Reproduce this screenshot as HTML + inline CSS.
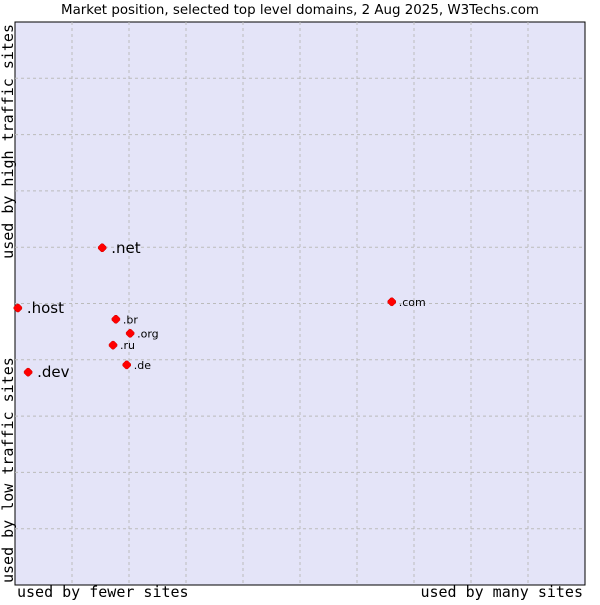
<!DOCTYPE html>
<html><head><meta charset="utf-8"><style>
body{margin:0;background:#fff;width:600px;height:600px;overflow:hidden}
svg text{font-family:"DejaVu Sans","Liberation Sans",sans-serif}
.mono{font-family:"DejaVu Sans Mono","Liberation Mono",monospace}
</style></head><body>
<svg id="c" width="600" height="600">
<text x="300" y="14" font-size="13.4" text-anchor="middle" fill="#000">Market position, selected top level domains, 2 Aug 2025, W3Techs.com</text>
<rect x="15" y="22" width="570" height="563" fill="#e4e4f8" stroke="#000" stroke-width="1"/>
<g id="grid"></g>
<g id="pts"></g>
<text class="mono" x="17" y="597" font-size="15">used by fewer sites</text>
<text class="mono" x="583" y="597" font-size="15" text-anchor="end">used by many sites</text>
<text class="mono" transform="translate(13,24) rotate(-90)" font-size="15" text-anchor="end">used by high traffic sites</text>
<text class="mono" transform="translate(13,583) rotate(-90)" font-size="15">used by low traffic sites</text>
</svg>
<script>
const labels=[".net",".host",".dev",".com",".br",".org",".ru",".de"];
const xValues=[15.3,0.5,2.3,66.1,17.7,20.2,17.2,19.6];
const yValues=[59.9,49.2,37.8,50.3,47.2,44.7,42.6,39.1];
const bigLabel=[true,true,true,false,false,false,false,false];
const X0=15,X1=585,Y0=585,Y1=22;
const sx=v=>X0+v/100*(X1-X0), sy=v=>Y0-v/100*(Y0-Y1);
const NS="http://www.w3.org/2000/svg";
const grid=document.getElementById('grid');
for(let i=1;i<10;i++){
 let l=document.createElementNS(NS,'line');
 
 
 l.setAttribute('x1',sx(i*10));l.setAttribute('x2',sx(i*10));l.setAttribute('y1',Y1);l.setAttribute('y2',Y0);
 l.setAttribute('stroke','#bbb');l.setAttribute('stroke-dasharray','3,3');grid.appendChild(l);
 let h=document.createElementNS(NS,'line');
 
 
 h.setAttribute('y1',sy(i*10));h.setAttribute('y2',sy(i*10));h.setAttribute('x1',X0);h.setAttribute('x2',X1);
 h.setAttribute('stroke','#bbb');h.setAttribute('stroke-dasharray','3,3');grid.appendChild(h);
}
const pts=document.getElementById('pts');
labels.forEach((lab,i)=>{
 const x=sx(xValues[i]),y=sy(yValues[i]);
 let m=document.createElementNS(NS,'path');
 
 
 m.setAttribute('d',`M${x-4} ${y-1}L${x-1} ${y-4}L${x+1} ${y-4}L${x+4} ${y-1}L${x+4} ${y+1}L${x+1} ${y+4}L${x-1} ${y+4}L${x-4} ${y+1}Z`);
 m.setAttribute('fill','#f00');m.setAttribute('stroke','#c00');m.setAttribute('stroke-width','0.5');pts.appendChild(m);
 let t=document.createElementNS(NS,'text');
 
 
 const big=bigLabel[i];
 t.setAttribute('x',x+(big?9:7));t.setAttribute('y',y+(big?5:4));
 t.setAttribute('font-size',big?15:11);t.textContent=lab;pts.appendChild(t);
});
</script>
</body></html>
